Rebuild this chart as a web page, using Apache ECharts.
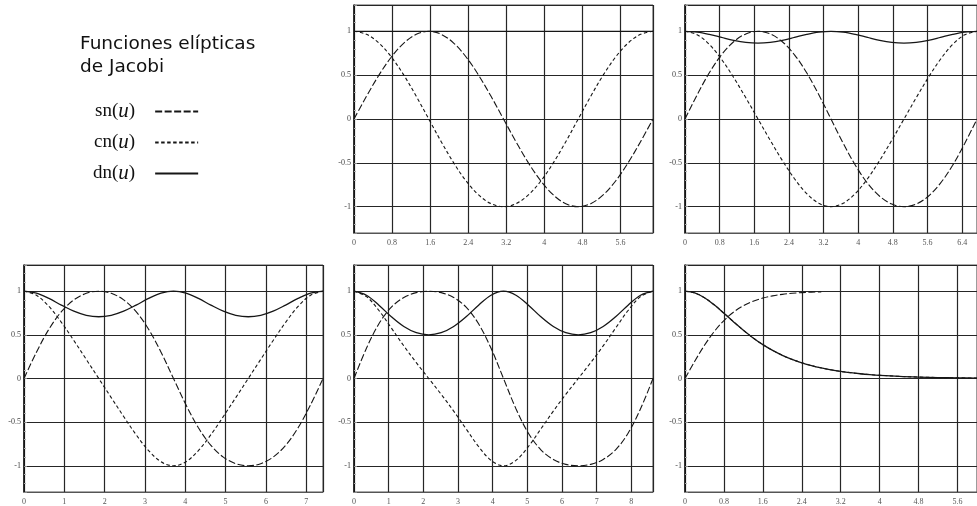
<!DOCTYPE html>
<html>
<head>
<meta charset="utf-8">
<script src="https://cdn.jsdelivr.net/npm/echarts@6/dist/echarts.min.js"></script>
<style>
  html, body { margin: 0; padding: 0; background: #fff; }
  #chart { width: 977px; height: 506px; }
</style>
</head>
<body>
<div id="chart"></div>
<script>
// Jacobi elliptic functions sn, cn, dn over one full period 4K for
// parameter m = 0, 0.25, 0.5, 0.75 and, for m = 1, the limiting tanh / sech curves.

// m = 0  (K = pi/2)
const u0  = [0, 0.2618, 0.5236, 0.7854, 1.0472, 1.309, 1.5708, 1.8326, 2.0944, 2.3562, 2.618, 2.8798, 3.1416, 3.4034, 3.6652, 3.927, 4.1888, 4.4506, 4.7124, 4.9742, 5.236, 5.4978, 5.7596, 6.0214, 6.2832];
const sn0 = [0, 0.2588, 0.5, 0.7071, 0.866, 0.9659, 1, 0.9659, 0.866, 0.7071, 0.5, 0.2588, 0, -0.2588, -0.5, -0.7071, -0.866, -0.9659, -1, -0.9659, -0.866, -0.7071, -0.5, -0.2588, 0];
const cn0 = [1, 0.9659, 0.866, 0.7071, 0.5, 0.2588, 0, -0.2588, -0.5, -0.7071, -0.866, -0.9659, -1, -0.9659, -0.866, -0.7071, -0.5, -0.2588, 0, 0.2588, 0.5, 0.7071, 0.866, 0.9659, 1];
const dn0 = [1, 1, 1, 1, 1, 1, 1, 1, 1, 1, 1, 1, 1, 1, 1, 1, 1, 1, 1, 1, 1, 1, 1, 1, 1];

// m = 0.25  (K = 1.6858)
const u25  = [0, 0.281, 0.5619, 0.8429, 1.1238, 1.4048, 1.6858, 1.9667, 2.2477, 2.5286, 2.8096, 3.0905, 3.3715, 3.6525, 3.9334, 4.2144, 4.4953, 4.7763, 5.0572, 5.3382, 5.6192, 5.9001, 6.1811, 6.462, 6.743];
const sn25 = [0, 0.2764, 0.5269, 0.7321, 0.881, 0.9704, 1, 0.9704, 0.881, 0.7321, 0.5269, 0.2764, 0, -0.2764, -0.5269, -0.7321, -0.881, -0.9704, -1, -0.9704, -0.881, -0.7321, -0.5269, -0.2764, 0];
const cn25 = [1, 0.961, 0.8499, 0.6812, 0.4731, 0.2417, 0, -0.2417, -0.4731, -0.6812, -0.8499, -0.961, -1, -0.961, -0.8499, -0.6812, -0.4731, -0.2417, 0, 0.2417, 0.4731, 0.6812, 0.8499, 0.961, 1];
const dn25 = [1, 0.9904, 0.9647, 0.9306, 0.8977, 0.8744, 0.866, 0.8744, 0.8977, 0.9306, 0.9647, 0.9904, 1, 0.9904, 0.9647, 0.9306, 0.8977, 0.8744, 0.866, 0.8744, 0.8977, 0.9306, 0.9647, 0.9904, 1];

// m = 0.5  (K = 1.8541)
const u50  = [0, 0.309, 0.618, 0.927, 1.236, 1.5451, 1.8541, 2.1631, 2.4721, 2.7811, 3.0901, 3.3991, 3.7082, 4.0172, 4.3262, 4.6352, 4.9442, 5.2532, 5.5622, 5.8712, 6.1802, 6.4893, 6.7983, 7.1073, 7.4163];
const sn50 = [0, 0.3018, 0.5646, 0.7654, 0.9002, 0.9759, 1, 0.9759, 0.9002, 0.7654, 0.5646, 0.3018, 0, -0.3018, -0.5646, -0.7654, -0.9002, -0.9759, -1, -0.9759, -0.9002, -0.7654, -0.5646, -0.3018, 0];
const cn50 = [1, 0.9534, 0.8254, 0.6436, 0.4354, 0.2185, 0, -0.2185, -0.4354, -0.6436, -0.8254, -0.9534, -1, -0.9534, -0.8254, -0.6436, -0.4354, -0.2185, 0, 0.2185, 0.4354, 0.6436, 0.8254, 0.9534, 1];
const dn50 = [1, 0.977, 0.9169, 0.8409, 0.7712, 0.7238, 0.7071, 0.7238, 0.7712, 0.8409, 0.9169, 0.977, 1, 0.977, 0.9169, 0.8409, 0.7712, 0.7238, 0.7071, 0.7238, 0.7712, 0.8409, 0.9169, 0.977, 1];

// m = 0.75  (K = 2.1565)
const u75  = [0, 0.3594, 0.7188, 1.0783, 1.4377, 1.7971, 2.1565, 2.5159, 2.8754, 3.2348, 3.5942, 3.9536, 4.313, 4.6724, 5.0319, 5.3913, 5.7507, 6.1101, 6.4695, 6.829, 7.1884, 7.5478, 7.9072, 8.2666, 8.6261];
const sn75 = [0, 0.3465, 0.6268, 0.8165, 0.9278, 0.9834, 1, 0.9834, 0.9278, 0.8165, 0.6268, 0.3465, 0, -0.3465, -0.6268, -0.8165, -0.9278, -0.9834, -1, -0.9834, -0.9278, -0.8165, -0.6268, -0.3465, 0];
const cn75 = [1, 0.9381, 0.7792, 0.5774, 0.3732, 0.1816, 0, -0.1816, -0.3732, -0.5774, -0.7792, -0.9381, -1, -0.9381, -0.7792, -0.5774, -0.3732, -0.1816, 0, 0.1816, 0.3732, 0.5774, 0.7792, 0.9381, 1];
const dn75 = [1, 0.9539, 0.8398, 0.7071, 0.5954, 0.5242, 0.5, 0.5242, 0.5954, 0.7071, 0.8398, 0.9539, 1, 0.9539, 0.8398, 0.7071, 0.5954, 0.5242, 0.5, 0.5242, 0.5954, 0.7071, 0.8398, 0.9539, 1];

// m = 1  (sn = tanh u, cn = dn = sech u)
const u100  = [0, 0.2, 0.4, 0.6, 0.8, 1, 1.2, 1.4, 1.6, 1.8, 2, 2.2, 2.4, 2.6, 2.8, 3, 3.2, 3.4, 3.6, 3.8, 4, 4.4, 4.8, 5.2, 5.6, 6];
const sn100 = [0, 0.1974, 0.38, 0.537, 0.664, 0.7616, 0.8337, 0.8854, 0.9217, 0.9468, 0.964, 0.9757, 0.9837, 0.989, 0.9926];
const cn100 = [1, 0.9803, 0.925, 0.8436, 0.7477, 0.6481, 0.5523, 0.4649, 0.388, 0.3218, 0.2658, 0.2189, 0.18, 0.1477, 0.1212, 0.0993, 0.0814, 0.0667, 0.0546, 0.0447, 0.0366, 0.0245, 0.0165, 0.011, 0.0074, 0.005];
const dn100 = [1, 0.9803, 0.925, 0.8436, 0.7477, 0.6481, 0.5523, 0.4649, 0.388, 0.3218, 0.2658, 0.2189, 0.18, 0.1477, 0.1212, 0.0993, 0.0814, 0.0667, 0.0546, 0.0447, 0.0366, 0.0245, 0.0165, 0.011, 0.0074, 0.005];

// Axis extents (4K for each m) and tick steps
const xMax   = [6.2832, 6.743, 7.4163, 8.6261, 6.0];
const xStep  = [0.8, 0.8, 1, 1, 0.8];
const yRange = [-1.3, 1.3];

const funcNames = ['sn', 'cn', 'dn'];

// Panel layout: top row holds the title/legend block then m=0 and m=0.25,
// bottom row holds m=0.5, m=0.75 and m=1.
const panels = [
  { left: 354, top: 5,   u: u0,   sn: sn0,   cn: cn0,   dn: dn0 },
  { left: 685, top: 5,   u: u25,  sn: sn25,  cn: cn25,  dn: dn25 },
  { left: 24,  top: 265, u: u50,  sn: sn50,  cn: cn50,  dn: dn50 },
  { left: 354, top: 265, u: u75,  sn: sn75,  cn: cn75,  dn: dn75 },
  { left: 685, top: 265, u: u100, sn: sn100, cn: cn100, dn: dn100 }
];

const PANEL_W = 299, PANEL_H = 228;
const INK = '#161616';
const GRIDLINE = '#262626';
const LABEL_FONT = 'Liberation Serif';

const lineTypes = { sn: [7, 2.5], cn: [3.5, 2.5], dn: 'solid' };

function pairs(u, v) {
  const out = [];
  for (let i = 0; i < v.length; i++) out.push([u[i], v[i]]);
  return out;
}

const grid = panels.map(p => ({
  left: p.left, top: p.top, width: PANEL_W, height: PANEL_H,
  show: true, borderColor: '#555', borderWidth: 1, backgroundColor: '#fff'
}));

const xAxis = panels.map((p, i) => ({
  type: 'value', gridIndex: i, min: 0, max: xMax[i], interval: xStep[i],
  axisLine: { show: true, onZero: false, lineStyle: { color: '#555', width: 1 } },
  axisTick: { show: false },
  splitLine: { show: true, lineStyle: { color: GRIDLINE, width: 1.2 } },
  axisLabel: { fontFamily: LABEL_FONT, fontSize: 8, color: '#555', margin: 6,
               showMaxLabel: false, showMinLabel: true }
}));

const yAxis = panels.map((p, i) => ({
  type: 'value', gridIndex: i, min: yRange[0], max: yRange[1], splitNumber: 5,
  axisLine: { show: true, onZero: false, lineStyle: { color: '#111', width: 1.5 } },
  axisTick: { show: true, inside: true, length: 3, lineStyle: { color: '#888' } },
  minorTick: { show: true, splitNumber: 5, length: 2, lineStyle: { color: '#aaa' } },
  splitLine: { show: true, lineStyle: { color: GRIDLINE, width: 1.2 } },
  axisLabel: { fontFamily: LABEL_FONT, fontSize: 8, color: '#444', margin: 3,
               showMinLabel: false, showMaxLabel: false }
}));

const series = [];
panels.forEach((p, i) => {
  funcNames.forEach((f, j) => {
    series.push({
      name: f, type: 'line', xAxisIndex: i, yAxisIndex: i,
      data: pairs(p.u, p[f]),
      symbol: 'none', smooth: 0.35, z: 3 + j,
      lineStyle: { color: INK, width: f === 'dn' ? 1.3 : 1.1, type: lineTypes[f] }
    });
  });
});

const chart = echarts.init(document.getElementById('chart'), null, { renderer: 'canvas' });
chart.setOption({
  animation: false,
  backgroundColor: '#fff',
  title: {
    text: 'Funciones elípticas\nde Jacobi',
    left: 80, top: 33, padding: 0,
    textStyle: { fontFamily: 'DejaVu Sans', fontSize: 18.5, fontWeight: 'normal',
                 color: '#111', lineHeight: 23 }
  },
  legend: {
    data: funcNames, orient: 'vertical', left: 93, top: 101, padding: 0,
    align: 'right', itemWidth: 43, itemHeight: 10, itemGap: 10,
    selectedMode: false,
    itemStyle: { opacity: 0 },
    formatter: n => '{a|' + n + '(}{i|u}{a|)}',
    textStyle: {
      padding: [0, 15, 0, 0],
      rich: {
        a: { fontFamily: 'Liberation Serif', fontSize: 19, color: '#111', lineHeight: 22 },
        i: { fontFamily: 'Liberation Serif', fontStyle: 'italic', fontSize: 21, color: '#111', lineHeight: 22 }
      }
    }
  },
  grid, xAxis, yAxis, series
});
</script>
</body>
</html>
